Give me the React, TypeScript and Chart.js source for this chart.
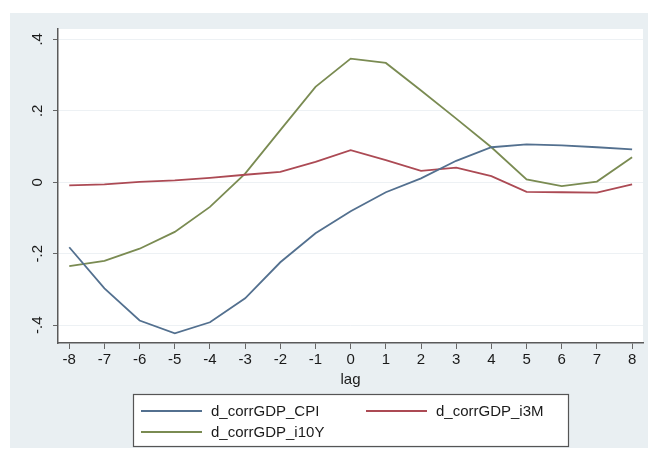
import React, { useEffect, useRef } from "react";
import { Chart, registerables } from "chart.js";

Chart.register(...registerables);

const LAGS = [-8, -7, -6, -5, -4, -3, -2, -1, 0, 1, 2, 3, 4, 5, 6, 7, 8];
const CPI = [-0.182, -0.297, -0.387, -0.423, -0.392, -0.325, -0.224, -0.143, -0.081, -0.028, 0.011, 0.060, 0.098, 0.106, 0.103, 0.098, 0.092];
const I3M = [-0.009, -0.006, 0.001, 0.005, 0.012, 0.021, 0.029, 0.057, 0.090, 0.062, 0.032, 0.041, 0.017, -0.027, -0.028, -0.029, -0.006];
const I10Y = [-0.235, -0.220, -0.186, -0.139, -0.069, 0.024, 0.146, 0.267, 0.346, 0.334, 0.257, 0.178, 0.098, 0.008, -0.011, 0.002, 0.070];
const SERIES_NAMES = ["d_corrGDP_CPI", "d_corrGDP_i3M", "d_corrGDP_i10Y"];
const SERIES_COLORS = ["#53708f", "#ac4a54", "#7a8b52"];
const Y_TICKS = [-0.4, -0.2, 0, 0.2, 0.4];
const X_TICKS = LAGS;
const X_TITLE = "lag";

const FONT = "'Liberation Sans', Arial, Helvetica, sans-serif";
const PANEL = "#e9eff2";

function stataFmt(v: number): string {
  const r = Math.round(v * 10) / 10;
  if (Math.abs(r) < 1e-9) return "0";
  return String(r).replace("0.", ".");
}

const bgPlugin = {
  id: "stataBg",
  beforeDraw(chart: any) {
    const { ctx, width, height, chartArea } = chart;
    ctx.save();
    ctx.fillStyle = "#ffffff";
    ctx.fillRect(0, 0, width, height);
    ctx.fillStyle = PANEL;
    ctx.fillRect(10, 13, width - 10, 435);
    ctx.fillStyle = "#ffffff";
    ctx.fillRect(chartArea.left, chartArea.top, chartArea.right - chartArea.left, chartArea.bottom - chartArea.top);
    ctx.restore();
  },
};

const legendPlugin = {
  id: "stataLegend",
  afterDraw(chart: any) {
    const { ctx } = chart;
    const boxX = 133.5, boxY = 394.5, boxW = 435, boxH = 52;
    ctx.save();
    ctx.fillStyle = "#ffffff";
    ctx.fillRect(boxX, boxY, boxW, boxH);
    ctx.strokeStyle = "#555555";
    ctx.lineWidth = 1.2;
    ctx.strokeRect(boxX, boxY, boxW, boxH);
    const colX = [141, 366];
    const rowY = [411, 432];
    ctx.font = `15px ${FONT}`;
    ctx.textBaseline = "middle";
    ctx.textAlign = "left";
    chart.data.datasets.forEach((ds: any, i: number) => {
      const x = colX[i % 2];
      const y = rowY[Math.floor(i / 2)];
      ctx.strokeStyle = ds.borderColor;
      ctx.lineWidth = 1.8;
      ctx.beginPath();
      ctx.moveTo(x, y);
      ctx.lineTo(x + 61, y);
      ctx.stroke();
      ctx.fillStyle = "#1a1a1a";
      ctx.fillText(ds.label, x + 70, y + 1);
    });
    ctx.restore();
  },
};

export default function App() {
  const ref = useRef<HTMLCanvasElement | null>(null);
  useEffect(() => {
    document.body.style.margin = "0";
    const canvas = ref.current;
    if (!canvas) return;
    const seriesVals = [CPI, I3M, I10Y];
    const chart = new Chart(canvas, {
      type: "line",
      data: {
        datasets: seriesVals.map((vals, i) => ({
          label: SERIES_NAMES[i],
          data: LAGS.map((x, j) => ({ x, y: vals[j] })),
          borderColor: SERIES_COLORS[i],
          backgroundColor: SERIES_COLORS[i],
          borderWidth: 1.8,
          pointRadius: 0,
          tension: 0,
          fill: false,
        })),
      },
      options: {
        responsive: false,
        animation: false,
        devicePixelRatio: 1,
        layout: { padding: { left: 0, right: 5, top: 29, bottom: 0 } },
        plugins: { legend: { display: false }, tooltip: { enabled: false } },
        scales: {
          x: {
            type: "linear",
            min: -8.32,
            max: 8.31,
            afterBuildTicks: (s: any) => {
              s.ticks = X_TICKS.map((v) => ({ value: v }));
            },
            afterFit: (s: any) => {
              s.height = 117;
            },
            ticks: {
              callback: (v: any) => String(v),
              font: { family: FONT, size: 15 },
              color: "#1a1a1a",
              padding: 2,
              maxRotation: 0,
              autoSkip: false,
            },
            grid: { drawOnChartArea: false, drawTicks: true, tickLength: 6, tickColor: "#666666", tickWidth: 1 },
            border: { display: true, color: "#5a5a5a", width: 1.5 },
            title: {
              display: true,
              text: X_TITLE,
              font: { family: FONT, size: 15 },
              color: "#1a1a1a",
              padding: { top: 0, bottom: 71 },
            },
          },
          y: {
            type: "linear",
            min: -0.45,
            max: 0.429,
            afterBuildTicks: (s: any) => {
              s.ticks = Y_TICKS.map((v) => ({ value: v }));
            },
            afterFit: (s: any) => {
              s.width = 58;
            },
            ticks: {
              callback: (v: any) => stataFmt(Number(v)),
              font: { family: FONT, size: 15 },
              color: "#1a1a1a",
              padding: 6,
              minRotation: 90,
              maxRotation: 90,
              crossAlign: "center",
              autoSkip: false,
            },
            grid: { color: "#edf1f4", lineWidth: 1, drawTicks: true, tickLength: 5, tickColor: "#666666", tickWidth: 1 },
            border: { display: true, color: "#5a5a5a", width: 1.5 },
          },
        },
      },
      plugins: [bgPlugin, legendPlugin],
    } as any);
    return () => chart.destroy();
  }, []);
  return (
    <div style={{ width: 648, height: 460 }}>
      <canvas ref={ref} width={648} height={460} style={{ display: "block", width: 648, height: 460 }} />
    </div>
  );
}
